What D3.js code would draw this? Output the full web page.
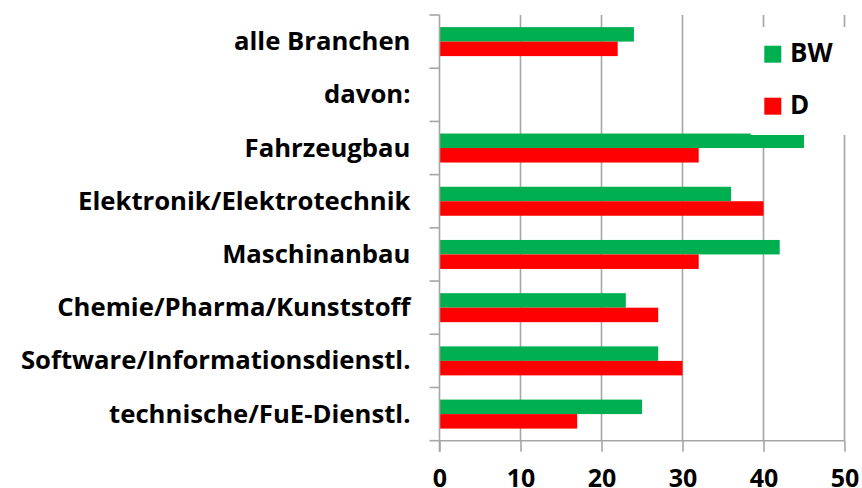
<!DOCTYPE html>
<html><head><meta charset="utf-8">
<script src="https://cdn.jsdelivr.net/npm/d3@7"></script>
<style>
html,body{margin:0;padding:0;background:#fff;}
svg{display:block;}
text{font-family:"Open Sans",Lato,sans-serif;font-weight:bold;fill:#000;}
</style></head>
<body>
<svg id="c" width="862" height="488"></svg>
<script>
const categories = ["alle Branchen","davon:","Fahrzeugbau","Elektronik/Elektrotechnik","Maschinanbau","Chemie/Pharma/Kunststoff","Software/Informationsdienstl.","technische/FuE-Dienstl."];
const seriesNames = ["BW","D"];
const bwValues = [24, null, 45, 36, 42, 23, 27, 25];
const dValues  = [22, null, 32, 40, 32, 27, 30, 17];
const xTicks = [0,10,20,30,40,50];
const colors = ["#00B050","#FF0000"];

(function(){
const svg = d3.select("#c");
const pL = 439.5, pR = 844.5, pT = 15, pB = 440.7;
const x = d3.scaleLinear().domain([0,50]).range([pL,pR]);
const y = d3.scaleBand().domain(categories).range([pT,pB]).paddingInner(0.455).paddingOuter(0.2275);
const sub = d3.scaleBand().domain(seriesNames).range([0,y.bandwidth()]);
const grid = "#a6a6a6";

// gridlines
svg.append("g").selectAll("line").data(xTicks.filter(d=>d>0)).join("line")
  .attr("x1",d=>x(d)).attr("x2",d=>x(d)).attr("y1",pT).attr("y2",pB)
  .attr("stroke",grid).attr("stroke-width",1.6);

// bars
const series = [bwValues, dValues];
series.forEach((vals,si)=>{
  svg.append("g").selectAll("rect").data(categories.map((c,i)=>({c,v:vals[i]})).filter(d=>d.v!=null)).join("rect")
    .attr("x",x(0)).attr("y",d=>y(d.c)+sub(seriesNames[si]))
    .attr("width",d=>x(d.v)-x(0)).attr("height",sub.bandwidth())
    .attr("fill",colors[si]);
});

// y axis
const yAxis = d3.axisLeft(y).tickSize(0).tickPadding(29);
const gy = svg.append("g").attr("transform",`translate(${pL},0)`).call(yAxis);
gy.select(".domain").remove();
gy.selectAll("text").style("font-size","25.7px").attr("dy","0.33em");
svg.append("line").attr("x1",pL).attr("x2",pL).attr("y1",pT).attr("y2",pB+11).attr("stroke",grid).attr("stroke-width",1.6);
svg.append("g").selectAll("line").data(d3.range(categories.length+1)).join("line")
  .attr("x1",pL-10).attr("x2",pL).attr("y1",i=>pT+(pB-pT)*i/categories.length).attr("y2",i=>pT+(pB-pT)*i/categories.length)
  .attr("stroke",grid).attr("stroke-width",1.6);

// x axis
const xAxis = d3.axisBottom(x).tickValues(xTicks).tickSize(11).tickPadding(16);
const gx = svg.append("g").attr("transform",`translate(0,${pB})`).call(xAxis);
gx.select(".domain").attr("stroke",grid).attr("stroke-width",1.6).attr("d",`M${pL},0H${pR}`);
gx.selectAll(".tick line").attr("stroke",grid).attr("stroke-width",1.6);
gx.selectAll("text").style("font-size","25px").attr("y",null).attr("dy",null).attr("y",46);

// legend
const lg = svg.append("g");
lg.append("rect").attr("x",750.7).attr("y",27).attr("width",120).attr("height",108).attr("fill","#fff");
seriesNames.forEach((n,i)=>{
  const yy = 45.7 + i*52;
  lg.append("rect").attr("x",764.3).attr("y",yy).attr("width",17).attr("height",17).attr("fill",colors[i]);
  lg.append("text").attr("x",790).attr("y",yy+16.5).style("font-size","26px").text(n);
});
})();
</script>
</body></html>
